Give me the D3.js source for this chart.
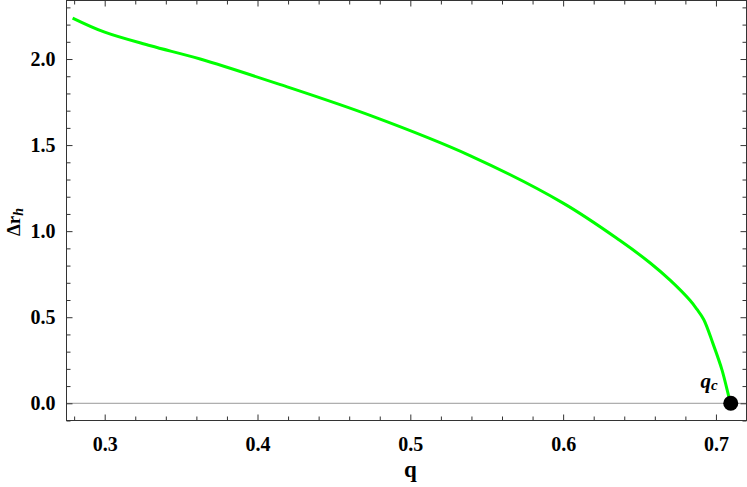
<!DOCTYPE html>
<html>
<head>
<meta charset="utf-8">
<script src="https://cdn.jsdelivr.net/npm/d3@7"></script>
<style>
  body { margin: 0; background: #fff; }
  svg { display: block; font-family: "Liberation Serif", "DejaVu Serif", serif; }
</style>
</head>
<body>
<script>
// curve data
const qValues = [0.279, 0.300, 0.330, 0.3625, 0.415, 0.475, 0.539, 0.600, 0.637, 0.657, 0.670, 0.683, 0.6875, 0.692, 0.698, 0.704, 0.709, 0.7097];
const drValues = [2.238, 2.156, 2.077, 2.000, 1.851, 1.668, 1.439, 1.163, 0.947, 0.815, 0.715, 0.598, 0.547, 0.487, 0.348, 0.193, 0.019, 0.0];
const critical = { q: 0.7097, dr: 0.0 };
const xMajor = [0.3, 0.4, 0.5, 0.6, 0.7];
const yMajor = [0.0, 0.5, 1.0, 1.5, 2.0];

const width = 747, height = 487;
const margin = { left: 66.5, right: 0.5, top: 0.5, bottom: 66.5 };
const serif = '"Liberation Serif", "DejaVu Serif", serif';

const svg = d3.select("body").append("svg")
  .attr("width", width)
  .attr("height", height);

const x = d3.scaleLinear().domain([0.275, 0.72]).range([margin.left, width - margin.right]);
const y = d3.scaleLinear().domain([-0.1, 2.34]).range([height - margin.bottom, margin.top]);

const xMinor = d3.range(0.28, 0.7201, 0.02).filter(v => !xMajor.some(m => Math.abs(m - v) < 1e-6));
const yMinor = d3.range(-0.1, 2.3401, 0.1).filter(v => !yMajor.some(m => Math.abs(m - v) < 1e-6));

const x0 = x.range()[0], x1 = x.range()[1];
const y0 = y.range()[0], y1 = y.range()[1];

// zero line
svg.append("line")
  .attr("x1", x0).attr("x2", x1)
  .attr("y1", y(0)).attr("y2", y(0))
  .attr("stroke", "#999").attr("stroke-width", 1);

function styleAxis(g) {
  g.attr("font-family", serif).attr("font-size", 20);
  g.select(".domain").remove();
  g.selectAll(".tick line").attr("stroke", "#333");
  g.selectAll(".tick text")
    .attr("font-family", serif)
    .attr("font-weight", "bold")
    .attr("font-size", 20)
    .attr("fill", "#000");
}

// bottom axis with labels
svg.append("g")
  .attr("transform", `translate(0,${y0})`)
  .call(d3.axisBottom(x).tickValues(xMajor).tickSize(-6).tickPadding(16).tickFormat(d3.format(".1f")))
  .call(styleAxis);
svg.append("g")
  .attr("transform", `translate(0,${y0})`)
  .call(d3.axisBottom(x).tickValues(xMinor).tickSize(-4).tickFormat(""))
  .call(styleAxis);

// top axis (ticks only)
svg.append("g")
  .attr("transform", `translate(0,${y1})`)
  .call(d3.axisTop(x).tickValues(xMajor).tickSize(-6).tickFormat(""))
  .call(styleAxis);
svg.append("g")
  .attr("transform", `translate(0,${y1})`)
  .call(d3.axisTop(x).tickValues(xMinor).tickSize(-4).tickFormat(""))
  .call(styleAxis);

// left axis with labels
svg.append("g")
  .attr("transform", `translate(${x0},0)`)
  .call(d3.axisLeft(y).tickValues(yMajor).tickSize(-6).tickPadding(11).tickFormat(d3.format(".1f")))
  .call(styleAxis);
svg.append("g")
  .attr("transform", `translate(${x0},0)`)
  .call(d3.axisLeft(y).tickValues(yMinor).tickSize(-4).tickFormat(""))
  .call(styleAxis);

// right axis (ticks only)
svg.append("g")
  .attr("transform", `translate(${x1},0)`)
  .call(d3.axisRight(y).tickValues(yMajor).tickSize(-6).tickFormat(""))
  .call(styleAxis);
svg.append("g")
  .attr("transform", `translate(${x1},0)`)
  .call(d3.axisRight(y).tickValues(yMinor).tickSize(-4).tickFormat(""))
  .call(styleAxis);

// frame
svg.append("rect")
  .attr("x", x0).attr("y", y1)
  .attr("width", x1 - x0).attr("height", y0 - y1)
  .attr("fill", "none").attr("stroke", "#333").attr("stroke-width", 1);

// curve
const line = d3.line()
  .x((d, i) => x(qValues[i]))
  .y(d => y(d))
  .curve(d3.curveCatmullRom.alpha(0.5));

svg.append("path")
  .datum(drValues)
  .attr("d", line)
  .attr("fill", "none")
  .attr("stroke", "#00ff00")
  .attr("stroke-width", 3)
  .attr("stroke-linejoin", "round");

// critical point
svg.append("circle")
  .attr("cx", x(critical.q)).attr("cy", y(critical.dr))
  .attr("r", 7.5).attr("fill", "#000");

const qc = svg.append("text")
  .attr("x", x(critical.q) - 13).attr("y", y(critical.dr) - 15)
  .attr("text-anchor", "end")
  .attr("font-family", serif)
  .attr("font-weight", "bold").attr("font-style", "italic")
  .attr("font-size", 21);
qc.append("tspan").text("q");
qc.append("tspan").attr("font-size", 15).attr("dy", 2).text("c");

// axis labels
svg.append("text")
  .attr("x", x(0.5)).attr("y", 477)
  .attr("text-anchor", "middle")
  .attr("font-family", serif)
  .attr("font-weight", "bold").attr("font-size", 23)
  .text("q");

const yl = svg.append("text")
  .attr("transform", "translate(19.5,222) rotate(-90)")
  .attr("text-anchor", "middle")
  .attr("font-family", serif)
  .attr("font-weight", "bold").attr("font-size", 19);
yl.append("tspan").text("Δr");
yl.append("tspan").attr("font-style", "italic").attr("font-size", 14).attr("dy", 3).text("h");
</script>
</body>
</html>
